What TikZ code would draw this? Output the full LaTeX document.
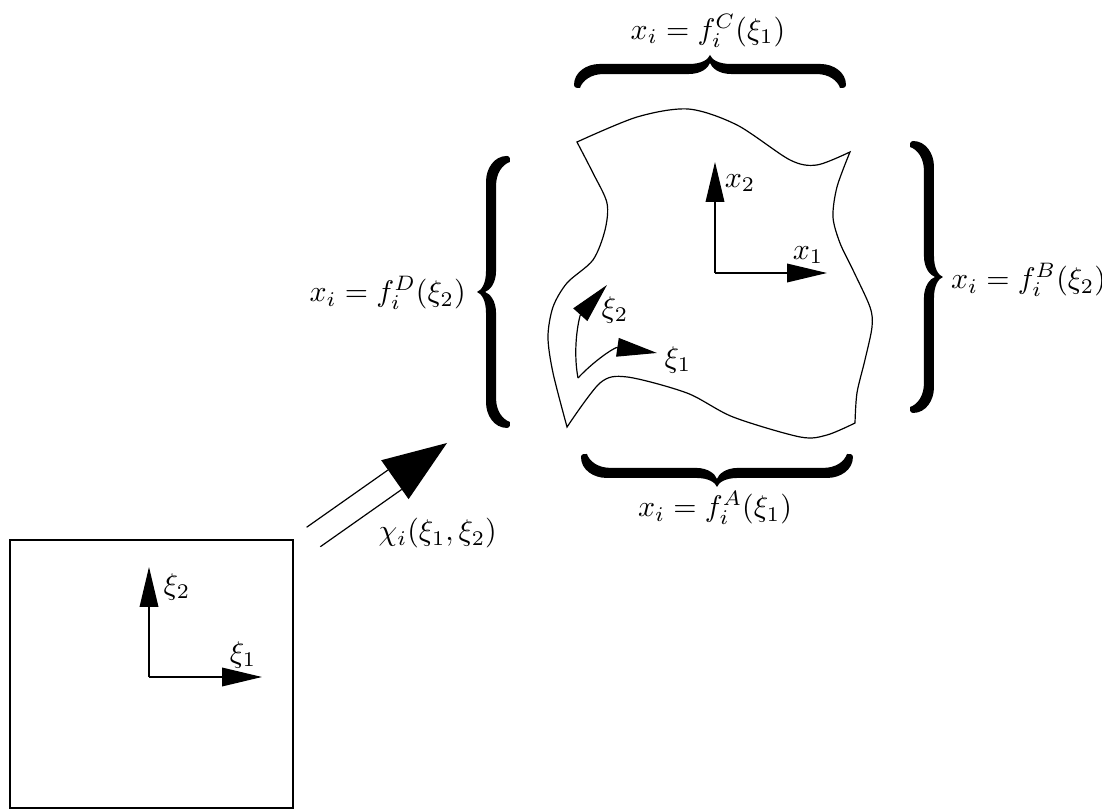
\documentclass[tikz,border=0pt]{standalone}
\usepackage{amsmath, amssymb}
\usetikzlibrary{arrows.meta, calc}

\tikzset{
    axisarrow/.style={-{Triangle[length=0.47cm,width=0.22cm]}},
    boldbrace/.pic={
        \fill (0.353,1.6) .. controls (0.2,1.6) and (0.106,1.45) .. (0.106,1.3)
            -- (0.106,0.25) .. controls (0.106,0.09) and (0.05,0.02) .. (0,0)
            .. controls (0.05,-0.02) and (0.106,-0.09) .. (0.106,-0.25)
            -- (0.106,-1.3) .. controls (0.106,-1.45) and (0.2,-1.6) .. (0.353,-1.6)
            .. controls (0.38,-1.6) and (0.4,-1.56) .. (0.388,-1.53)
            .. controls (0.3,-1.5) and (0.224,-1.4) .. (0.224,-1.25)
            -- (0.224,-0.25) .. controls (0.224,-0.1) and (0.15,-0.02) .. (0.094,0)
            .. controls (0.15,0.02) and (0.224,0.1) .. (0.224,0.25)
            -- (0.224,1.25) .. controls (0.224,1.4) and (0.3,1.5) .. (0.388,1.53)
            .. controls (0.4,1.56) and (0.38,1.6) .. (0.353,1.6) -- cycle;
    },
}

\begin{document}
\begin{tikzpicture}[scale=1, >=Stealth]
    \useasboundingbox (0,0) rectangle (12.965,9.553);
    % parent square
    \draw (0.118,0.047) rectangle (3.447,3.2);
    \coordinate (so) at (1.753,1.588);
    \coordinate (se1) at (3.082,1.588);
    \coordinate (se2) at (1.753,2.882);
    \draw[axisarrow] (so) -- (se1);
    \draw[axisarrow] (so) -- (se2);
    \node (sxi1) at (2.859,1.847) {$\xi_1$};
    \node (sxi2) at (2.082,2.647) {$\xi_2$};
    % mapping arrow
    \coordinate (mapS) at (3.688,3.235);
    \coordinate (mapT) at (5.259,4.341);
    \coordinate (mapB) at ($(mapT)!0.75cm!(mapS)$);
    \draw ($(mapS)!0.14cm!90:(mapT)$) -- ($(mapB)!0.14cm!90:(mapT)$);
    \draw ($(mapS)!0.14cm!-90:(mapT)$) -- ($(mapB)!0.14cm!-90:(mapT)$);
    \fill (mapT) -- ($(mapB)!0.28cm!90:(mapT)$) -- ($(mapB)!0.28cm!-90:(mapT)$) -- cycle;
    \node (chi) at (5.15,3.28) {$\chi_i(\xi_1,\xi_2)$};
    % physical element
    \draw plot[smooth] coordinates {(6.788,7.882) (7.494,8.176) (8.1,8.27) (8.671,8.082) (9.294,7.671) (9.612,7.612) (10.0,7.765)}
        -- plot[smooth] coordinates {(10.0,7.765) (9.847,7.353) (9.8,7.0) (9.882,6.694) (10.035,6.376) (10.235,5.941) (10.259,5.706) (10.176,5.318) (10.082,4.929) (10.059,4.576)}
        -- plot[smooth] coordinates {(10.059,4.576) (9.729,4.435) (9.412,4.412) (8.624,4.647) (8.082,4.929) (7.376,5.118) (7.059,5.047) (6.671,4.529)}
        -- plot[smooth] coordinates {(6.671,4.529) (6.506,5.165) (6.447,5.588) (6.506,5.941) (6.671,6.224) (6.976,6.494) (7.118,6.847) (7.141,7.165) (6.976,7.518) (6.788,7.882)}
        -- cycle;
    \coordinate (co) at (6.8,5.106);
    \coordinate (ct1) at (7.729,5.4);
    \coordinate (ct2) at (7.141,6.2);
    \draw[axisarrow] (co) .. controls (7.0,5.318) and (7.235,5.471) .. (ct1);
    \draw[axisarrow] (co) .. controls (6.729,5.494) and (6.824,5.847) .. (ct2);
    \node (cxi1) at (7.976,5.318) {$\xi_1$};
    \node (cxi2) at (7.235,5.906) {$\xi_2$};
    \coordinate (xo) at (8.412,6.341);
    \coordinate (xe1) at (9.729,6.341);
    \coordinate (xe2) at (8.412,7.647);
    \draw[axisarrow] (xo) -- (xe1);
    \draw[axisarrow] (xo) -- (xe2);
    \node (x1) at (9.506,6.553) {$x_1$};
    \node (x2) at (8.706,7.4) {$x_2$};
    % edge braces
    \pic[rotate=-90] at (8.353,8.906) {boldbrace};
    \pic[rotate=90] at (8.435,3.824) {boldbrace};
    \pic at (5.612,6.118) {boldbrace};
    \pic[rotate=180] at (11.094,6.294) {boldbrace};
    \node (fC) at (8.329,9.19) {$x_i = f_i^C(\xi_1)$};
    \node (fA) at (8.412,3.576) {$x_i = f_i^A(\xi_1)$};
    \node (fD) at (4.56,6.106) {$x_i = f_i^D(\xi_2)$};
    \node (fB) at (12.1,6.259) {$x_i = f_i^B(\xi_2)$};
\end{tikzpicture}
\end{document}
